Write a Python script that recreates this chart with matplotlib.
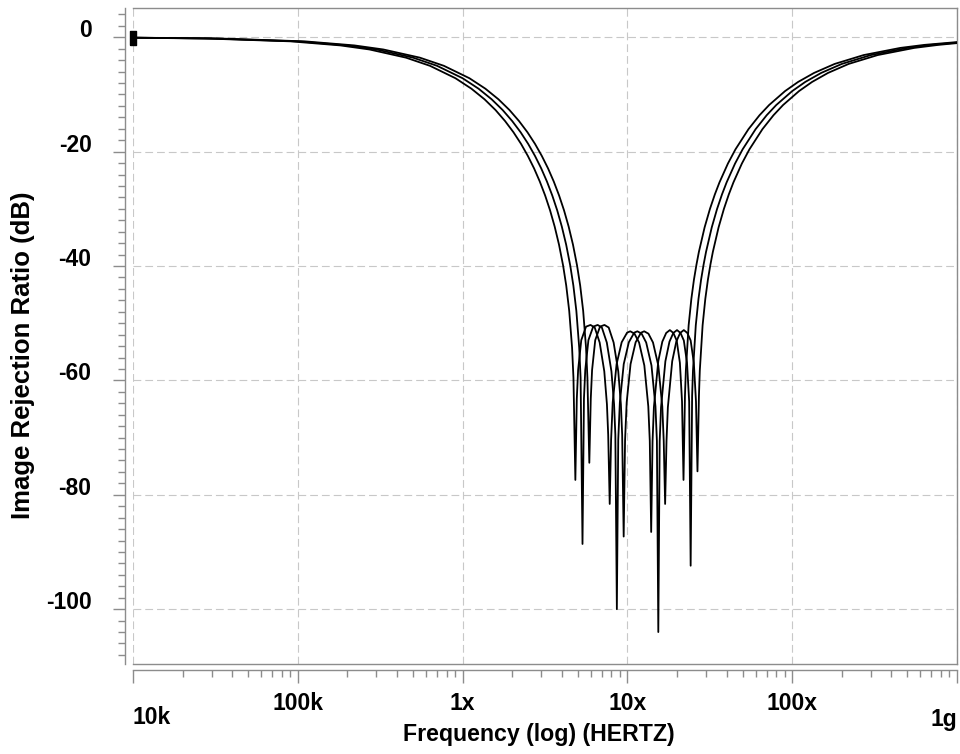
import numpy as np
import matplotlib
matplotlib.use("Agg")
import matplotlib.pyplot as plt
from matplotlib.ticker import FixedLocator, NullFormatter, LogLocator

# frequencies in MHz, image rejection in dB (three curves)
freq_a = [0.01, 0.0272, 0.0905, 0.181, 0.272, 0.453, 0.634, 0.905, 1.131, 1.358,
          1.584, 1.81, 2.036, 2.263, 2.489, 2.715, 2.941, 3.168, 3.394, 3.62,
          3.846, 4.073, 4.254, 4.435, 4.616, 4.706, 4.833, 4.932, 5.023, 5.249,
          5.611, 5.973, 6.335, 6.788, 7.24, 7.512, 7.647, 7.81, 7.964, 8.145,
          8.598, 9.231, 9.955, 10.41, 11.04, 11.77, 12.67, 13.39, 13.67, 13.94,
          14.21, 14.48, 15.39, 16.29, 17.2, 18.1, 19.0, 19.91, 20.82, 21.45,
          21.9, 22.35, 22.63, 23.53, 24.44, 25.34, 26.25, 27.15, 29.41, 31.68,
          33.94, 36.2, 40.73, 45.25, 54.3, 63.35, 72.4, 90.5, 108.6, 135.8,
          181, 271.5, 452.5, 633.5, 1000]
irr_a = [-0.08, -0.21, -0.71, -1.42, -2.13, -3.56, -4.99, -7.16, -8.99, -10.84,
         -12.72, -14.65, -16.61, -18.64, -20.75, -22.93, -25.23, -27.66, -30.26, -33.10,
         -36.26, -39.92, -43.41, -47.83, -54.26, -59.55, -77.4, -63.16, -58.19, -52.96,
         -50.6, -50.3, -50.75, -53.38, -58.41, -64.16, -69.51, -81.6, -70.36, -63.83,
         -57.15, -53.33, -51.65, -51.41, -51.83, -53.37, -57.39, -64.54, -70.56, -86.5,
         -70.63, -64.70, -56.65, -53.22, -51.7, -51.2, -51.7, -53.02, -56.92, -63.68,
         -77.4, -62.68, -58.28, -50.36, -45.74, -42.38, -39.74, -37.53, -33.24, -30.02,
         -27.47, -25.37, -22.08, -19.60, -16.06, -13.63, -11.85, -9.41, -7.81, -6.23,
         -4.66, -3.11, -1.86, -1.33, -0.84]

freq_b = [0.01, 0.03, 0.1, 0.2, 0.3, 0.5, 0.7, 1.0, 1.25, 1.5,
          1.75, 2.0, 2.25, 2.5, 2.75, 3.0, 3.25, 3.5, 3.75, 4.0,
          4.25, 4.5, 4.7, 4.9, 5.1, 5.2, 5.34, 5.45, 5.55, 5.8,
          6.2, 6.6, 7.0, 7.5, 8.0, 8.3, 8.45, 8.63, 8.8, 9.0,
          9.5, 10.2, 11.0, 11.5, 12.2, 13.0, 14.0, 14.8, 15.1, 15.4,
          15.7, 16.0, 17.0, 18.0, 19.0, 20.0, 21.0, 22.0, 23.0, 23.7,
          24.2, 24.7, 25.0, 26.0, 27.0, 28.0, 29.0, 30.0, 32.5, 35.0,
          37.5, 40.0, 45.0, 50.0, 60.0, 70.0, 80.0, 100, 120, 150,
          200, 300, 500, 700, 1000]
irr_b = [-0.07, -0.21, -0.71, -1.42, -2.13, -3.56, -4.99, -7.16, -8.99, -10.84,
         -12.72, -14.65, -16.61, -18.64, -20.75, -22.93, -25.23, -27.66, -30.26, -33.10,
         -36.26, -39.92, -43.41, -47.83, -54.26, -59.55, -88.6, -63.16, -58.19, -52.96,
         -50.6, -50.3, -50.75, -53.38, -58.41, -64.16, -69.51, -100.0, -70.36, -63.83,
         -57.15, -53.33, -51.65, -51.41, -51.83, -53.37, -57.39, -64.54, -70.56, -104.0,
         -70.63, -64.70, -56.65, -53.22, -51.7, -51.2, -51.7, -53.02, -56.92, -63.68,
         -92.4, -62.68, -58.28, -50.36, -45.74, -42.38, -39.74, -37.53, -33.24, -30.02,
         -27.47, -25.37, -22.08, -19.60, -16.06, -13.63, -11.85, -9.41, -7.81, -6.23,
         -4.66, -3.11, -1.86, -1.33, -0.93]

freq_c = [0.01, 0.033, 0.11, 0.22, 0.33, 0.55, 0.77, 1.1, 1.375, 1.65,
          1.925, 2.2, 2.475, 2.75, 3.025, 3.3, 3.575, 3.85, 4.125, 4.4,
          4.675, 4.95, 5.17, 5.39, 5.61, 5.72, 5.874, 5.995, 6.105, 6.38,
          6.82, 7.26, 7.7, 8.25, 8.8, 9.13, 9.295, 9.493, 9.68, 9.9,
          10.45, 11.22, 12.1, 12.65, 13.42, 14.3, 15.4, 16.28, 16.61, 16.94,
          17.27, 17.6, 18.7, 19.8, 20.9, 22.0, 23.1, 24.2, 25.3, 26.07,
          26.62, 27.17, 27.5, 28.6, 29.7, 30.8, 31.9, 33.0, 35.75, 38.5,
          41.25, 44.0, 49.5, 55.0, 66.0, 77.0, 88.0, 110, 132, 165,
          220, 330, 550, 770, 1000]
irr_c = [-0.065, -0.21, -0.71, -1.42, -2.13, -3.56, -4.99, -7.16, -8.99, -10.84,
         -12.72, -14.65, -16.61, -18.64, -20.75, -22.93, -25.23, -27.66, -30.26, -33.10,
         -36.26, -39.92, -43.41, -47.83, -54.26, -59.55, -74.4, -63.16, -58.19, -52.96,
         -50.6, -50.3, -50.75, -53.38, -58.41, -64.16, -69.51, -87.3, -70.36, -63.83,
         -57.15, -53.33, -51.65, -51.41, -51.83, -53.37, -57.39, -64.54, -70.56, -81.6,
         -70.63, -64.70, -56.65, -53.22, -51.7, -51.2, -51.7, -53.02, -56.92, -63.68,
         -75.9, -62.68, -58.28, -50.36, -45.74, -42.38, -39.74, -37.53, -33.24, -30.02,
         -27.47, -25.37, -22.08, -19.60, -16.06, -13.63, -11.85, -9.41, -7.81, -6.23,
         -4.66, -3.11, -1.86, -1.33, -1.02]

x_ticks = [1e4, 1e5, 1e6, 1e7, 1e8, 1e9]
x_tick_labels = ["10k", "100k", "1x", "10x", "100x", "1g"]
y_ticks = [0, -20, -40, -60, -80, -100]

plt.rcParams['font.family'] = ['Liberation Sans', 'DejaVu Sans']
plt.rcParams['font.weight'] = 'bold'
gray = '#8c8c8c'

fig = plt.figure(figsize=(9.6, 7.54), dpi=100)
ax = fig.add_axes([133 / 960, 1 - 663.5 / 754, 824 / 960, 655.5 / 754])

for f, v in [(freq_a, irr_a), (freq_b, irr_b), (freq_c, irr_c)]:
    ax.plot(np.array(f) * 1e6, v, color='black', lw=1.3, zorder=3)
# small start marker (tall box) on the first point
box = [(-0.45, -1), (0.45, -1), (0.45, 1), (-0.45, 1), (-0.45, -1)]
ax.plot(np.array(freq_b) * 1e6, irr_b, linestyle='none', marker=box, ms=10,
        markevery=[0], color='black', clip_on=False, zorder=4)

ax.set_xscale('log')
ax.set_xlim(1e4, 1e9)
ax.set_ylim(-109.5, 5.12)

ax.xaxis.set_major_locator(FixedLocator(x_ticks))
ax.set_xticklabels([""] + x_tick_labels[1:-1] + [""])
ax.xaxis.set_minor_locator(LogLocator(base=10, subs=np.arange(2, 10)))
ax.xaxis.set_minor_formatter(NullFormatter())
ax.yaxis.set_major_locator(FixedLocator(y_ticks))
ax.set_yticklabels([str(t) for t in y_ticks])
ax.yaxis.set_minor_locator(FixedLocator(np.arange(-108, 5, 2)))

ax.grid(which='major', color='#c8c8c8', linestyle=(0, (7, 3.6)), lw=0.8)

ax.spines['left'].set_position(('outward', 5.8))
ax.spines['bottom'].set_position(('outward', 4.7))
for s in ax.spines.values():
    s.set_color(gray)
    s.set_linewidth(1.0)
ax.plot([0, 1], [0, 0], transform=ax.transAxes, color=gray, lw=1.0, clip_on=False)

ax.tick_params(axis='both', which='both', color=gray, width=1.0, labelsize=16.5)
ax.tick_params(axis='both', which='major', length=9)
ax.tick_params(axis='both', which='minor', length=5)
ax.tick_params(axis='y', which='major', pad=15)
ax.tick_params(axis='x', which='major', pad=7)
for lab in ax.get_yticklabels():
    lab.set_verticalalignment('baseline')

# end labels of the x axis sit lower and inside the axis
ax.text(x_ticks[0], -0.065, x_tick_labels[0], transform=ax.get_xaxis_transform(),
        ha='left', va='top', fontsize=16.5, fontweight='bold')
ax.text(x_ticks[-1], -0.068, x_tick_labels[-1], transform=ax.get_xaxis_transform(),
        ha='right', va='top', fontsize=16.5, fontweight='bold')

fig.text(539 / 960, 1 - 735 / 754, "Frequency (log) (HERTZ)", ha='center', va='center',
         fontsize=16.7, fontweight='bold')
fig.text(23 / 960, 1 - 355 / 754, "Image Rejection Ratio (dB)", rotation=90,
         ha='center', va='center', fontsize=18.5, fontweight='bold')

fig.savefig("out.png", dpi=100)
